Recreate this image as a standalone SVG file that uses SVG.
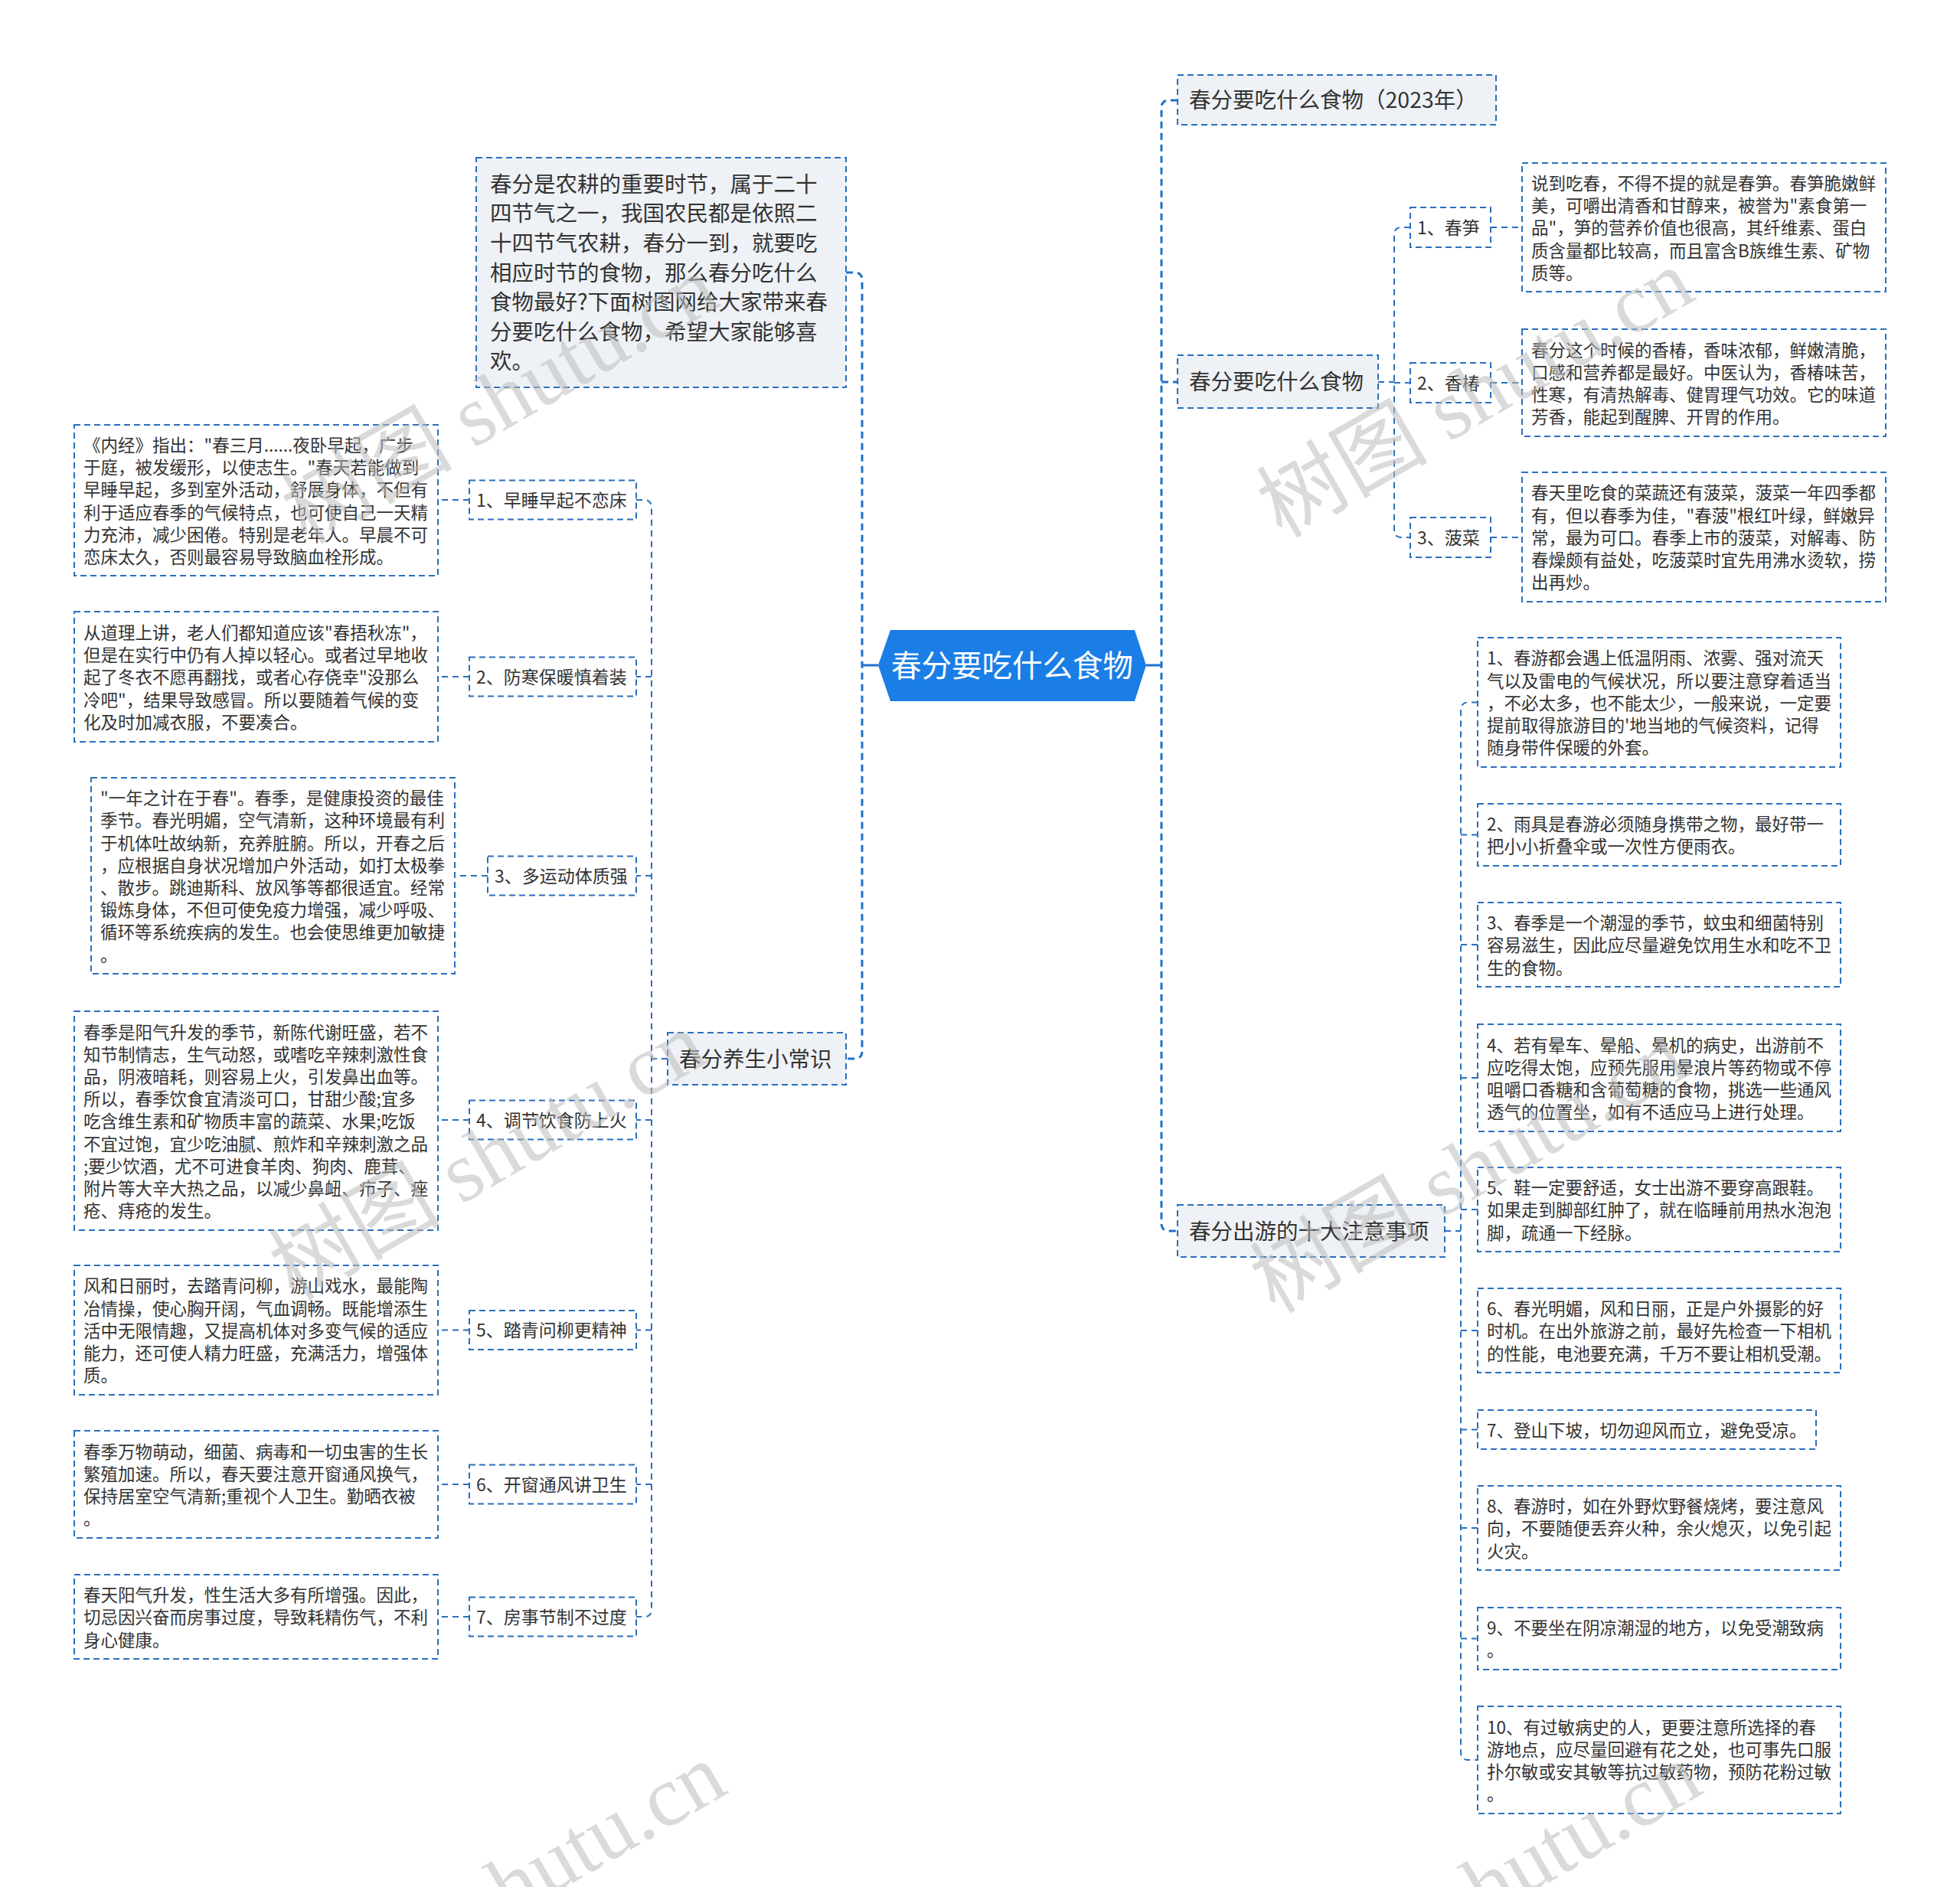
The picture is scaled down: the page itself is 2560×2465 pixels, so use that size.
<svg xmlns="http://www.w3.org/2000/svg" width="2560" height="2465" viewBox="0 0 2560 2465">
<style>
.t{font-family:"Noto Sans CJK SC","Noto Sans",sans-serif;fill:#333}
.d{font-size:22.5px}
.l{font-size:23px}
.m{font-size:28.5px}
.box{fill:#fff;stroke:#2a6fbd;stroke-width:2;stroke-dasharray:8 5}
.mainbox{fill:#eef1f5;stroke:#2a6fbd;stroke-width:2;stroke-dasharray:8 5}
.c1{fill:none;stroke:#1f72c8;stroke-width:3;stroke-dasharray:9 6}
.c2{fill:none;stroke:#2a6fbd;stroke-width:2;stroke-dasharray:8 6}
.wm{font-family:"Liberation Serif","Noto Sans CJK SC",serif;font-size:112px;fill:#bdbdbd;opacity:0.55}
</style>
<rect width="2560" height="2465" fill="#fff"/>

<g id="connectors">
  <path d="M1147,869 H1126 M1497,869 H1517" fill="none" stroke="#1f72c8" stroke-width="3"/>
  <path class="c1" d="M1105,356 H1116 Q1126,356 1126,366 V1373 Q1126,1383 1116,1383 H1105"/>
  <path class="c1" d="M1538,131 H1527 Q1517,131 1517,141 V1598 Q1517,1608 1527,1608 H1538 M1517,499 H1538"/>
  <path class="c2" d="M1800,499 H1821 M1842,297 H1831 Q1821,297 1821,307 V692 Q1821,702 1831,702 H1842 M1821,500 H1842"/>
  <path class="c2" d="M1947,297 H1988 M1947,500 H1988 M1947,702 H1988"/>
  <path class="c2" d="M1887,1608 H1908 M1930,917.5 H1918 Q1908,917.5 1908,927.5 V2289 Q1908,2299 1918,2299 H1930 M1908,1090.5 H1930 M1908,1234 H1930 M1908,1408 H1930 M1908,1580 H1930 M1908,1738 H1930 M1908,1867.5 H1930 M1908,1996 H1930 M1908,2140.5 H1930"/>
  <path class="c2" d="M872,1383 H851 M831,653 H841 Q851,653 851,663 V2102 Q851,2112 841,2112 H831 M851,884 H831 M851,1144 H831 M851,1463 H831 M851,1737.5 H831 M851,1939 H831"/>
  <path class="c2" d="M613,653 H572 M613,884 H572 M637,1144 H594 M613,1463 H572 M613,1737.5 H572 M613,1939 H572 M613,2112 H572"/>
</g>

<g id="root">
  <polygon points="1147,869 1163,823 1482,823 1497,869 1482,916 1163,916" fill="#1a7ee6"/>
  <text x="1322" y="883.5" text-anchor="middle" style="font-family:'Noto Sans CJK SC','Noto Sans',sans-serif;font-size:39.5px;fill:#fff">春分要吃什么食物</text>
</g>

<g id="intro">
  <rect class="mainbox" x="622" y="206" width="483" height="300"/>
  <text class="t m" x="640" y="250.7">
    <tspan x="640">春分是农耕的重要时节，属于二十</tspan>
    <tspan x="640" dy="38.6">四节气之一，我国农民都是依照二</tspan>
    <tspan x="640" dy="38.6">十四节气农耕，春分一到，就要吃</tspan>
    <tspan x="640" dy="38.6">相应时节的食物，那么春分吃什么</tspan>
    <tspan x="640" dy="38.6">食物最好?下面树图网给大家带来春</tspan>
    <tspan x="640" dy="38.6">分要吃什么食物，希望大家能够喜</tspan>
    <tspan x="640" dy="38.6">欢。</tspan>
  </text>
</g>

<g id="health">
  <rect class="mainbox" x="872" y="1349" width="233" height="68"/>
  <text class="t m" x="887" y="1393.5">春分养生小常识</text>
</g>

<g id="h1">
  <rect class="box" x="613" y="627.5" width="218" height="51"/>
  <text class="t l" x="622" y="661.5">1、早睡早起不恋床</text>
</g>
<g id="h1d">
  <rect class="box" x="97" y="555" width="475" height="197"/>
  <text class="t d" x="109" y="590">
    <tspan x="109">《内经》指出："春三月......夜卧早起，广步</tspan>
    <tspan x="109" dy="29.2">于庭，被发缓形，以使志生。"春天若能做到</tspan>
    <tspan x="109" dy="29.2">早睡早起，多到室外活动，舒展身体，不但有</tspan>
    <tspan x="109" dy="29.2">利于适应春季的气候特点，也可使自己一天精</tspan>
    <tspan x="109" dy="29.2">力充沛，减少困倦。特别是老年人。早晨不可</tspan>
    <tspan x="109" dy="29.2">恋床太久，否则最容易导致脑血栓形成。</tspan>
  </text>
</g>

<g id="h2">
  <rect class="box" x="613" y="858.5" width="218" height="51"/>
  <text class="t l" x="622" y="892.5">2、防寒保暖慎着装</text>
</g>
<g id="h2d">
  <rect class="box" x="97" y="799" width="475" height="170"/>
  <text class="t d" x="109" y="834.9">
    <tspan x="109">从道理上讲，老人们都知道应该"春捂秋冻"，</tspan>
    <tspan x="109" dy="29.2">但是在实行中仍有人掉以轻心。或者过早地收</tspan>
    <tspan x="109" dy="29.2">起了冬衣不愿再翻找，或者心存侥幸"没那么</tspan>
    <tspan x="109" dy="29.2">冷吧"，结果导致感冒。所以要随着气候的变</tspan>
    <tspan x="109" dy="29.2">化及时加减衣服，不要凑合。</tspan>
  </text>
</g>

<g id="h3">
  <rect class="box" x="637" y="1118.5" width="194" height="51"/>
  <text class="t l" x="646" y="1152.5">3、多运动体质强</text>
</g>
<g id="h3d">
  <rect class="box" x="119" y="1016" width="475" height="256"/>
  <text class="t d" x="131" y="1051.1">
    <tspan x="131">"一年之计在于春"。春季，是健康投资的最佳</tspan>
    <tspan x="131" dy="29.2">季节。春光明媚，空气清新，这种环境最有利</tspan>
    <tspan x="131" dy="29.2">于机体吐故纳新，充养脏腑。所以，开春之后</tspan>
    <tspan x="131" dy="29.2">，应根据自身状况增加户外活动，如打太极拳</tspan>
    <tspan x="131" dy="29.2">、散步。跳迪斯科、放风筝等都很适宜。经常</tspan>
    <tspan x="131" dy="29.2">锻炼身体，不但可使免疫力增强，减少呼吸、</tspan>
    <tspan x="131" dy="29.2">循环等系统疾病的发生。也会使思维更加敏捷</tspan>
    <tspan x="131" dy="29.2">。</tspan>
  </text>
</g>

<g id="h4">
  <rect class="box" x="613" y="1437.5" width="218" height="51"/>
  <text class="t l" x="622" y="1471.5">4、调节饮食防上火</text>
</g>
<g id="h4d">
  <rect class="box" x="97" y="1321" width="475" height="286"/>
  <text class="t d" x="109" y="1356.5">
    <tspan x="109">春季是阳气升发的季节，新陈代谢旺盛，若不</tspan>
    <tspan x="109" dy="29.2">知节制情志，生气动怒，或嗜吃辛辣刺激性食</tspan>
    <tspan x="109" dy="29.2">品，阴液暗耗，则容易上火，引发鼻出血等。</tspan>
    <tspan x="109" dy="29.2">所以，春季饮食宜清淡可口，甘甜少酸;宜多</tspan>
    <tspan x="109" dy="29.2">吃含维生素和矿物质丰富的蔬菜、水果;吃饭</tspan>
    <tspan x="109" dy="29.2">不宜过饱，宜少吃油腻、煎炸和辛辣刺激之品</tspan>
    <tspan x="109" dy="29.2">;要少饮酒，尤不可进食羊肉、狗肉、鹿茸、</tspan>
    <tspan x="109" dy="29.2">附片等大辛大热之品，以减少鼻衄、疖子、痤</tspan>
    <tspan x="109" dy="29.2">疮、痔疮的发生。</tspan>
  </text>
</g>

<g id="h5">
  <rect class="box" x="613" y="1712" width="218" height="51"/>
  <text class="t l" x="622" y="1746">5、踏青问柳更精神</text>
</g>
<g id="h5d">
  <rect class="box" x="97" y="1653" width="475" height="169"/>
  <text class="t d" x="109" y="1688.4">
    <tspan x="109">风和日丽时，去踏青问柳，游山戏水，最能陶</tspan>
    <tspan x="109" dy="29.2">冶情操，使心胸开阔，气血调畅。既能增添生</tspan>
    <tspan x="109" dy="29.2">活中无限情趣，又提高机体对多变气候的适应</tspan>
    <tspan x="109" dy="29.2">能力，还可使人精力旺盛，充满活力，增强体</tspan>
    <tspan x="109" dy="29.2">质。</tspan>
  </text>
</g>

<g id="h6">
  <rect class="box" x="613" y="1913.5" width="218" height="51"/>
  <text class="t l" x="622" y="1947.5">6、开窗通风讲卫生</text>
</g>
<g id="h6d">
  <rect class="box" x="97" y="1869" width="475" height="140"/>
  <text class="t d" x="109" y="1904.5">
    <tspan x="109">春季万物萌动，细菌、病毒和一切虫害的生长</tspan>
    <tspan x="109" dy="29.2">繁殖加速。所以，春天要注意开窗通风换气，</tspan>
    <tspan x="109" dy="29.2">保持居室空气清新;重视个人卫生。勤晒衣被</tspan>
    <tspan x="109" dy="29.2">。</tspan>
  </text>
</g>

<g id="h7">
  <rect class="box" x="613" y="2086.5" width="218" height="51"/>
  <text class="t l" x="622" y="2120.5">7、房事节制不过度</text>
</g>
<g id="h7d">
  <rect class="box" x="97" y="2057" width="475" height="110"/>
  <text class="t d" x="109" y="2092.1">
    <tspan x="109">春天阳气升发，性生活大多有所增强。因此，</tspan>
    <tspan x="109" dy="29.2">切忌因兴奋而房事过度，导致耗精伤气，不利</tspan>
    <tspan x="109" dy="29.2">身心健康。</tspan>
  </text>
</g>

<g id="year">
  <rect class="mainbox" x="1538" y="98" width="416" height="65"/>
  <text class="t m" x="1553" y="141">春分要吃什么食物（2023年）</text>
</g>

<g id="food">
  <rect class="mainbox" x="1538" y="464" width="262" height="69"/>
  <text class="t m" x="1553" y="509">春分要吃什么食物</text>
</g>

<g id="f1">
  <rect class="box" x="1842" y="271" width="105" height="52"/>
  <text class="t l" x="1851" y="305.5">1、春笋</text>
</g>
<g id="f1d">
  <rect class="box" x="1988" y="213" width="475" height="168"/>
  <text class="t d" x="2000" y="247.9">
    <tspan x="2000">说到吃春，不得不提的就是春笋。春笋脆嫩鲜</tspan>
    <tspan x="2000" dy="29.2">美，可嚼出清香和甘醇来，被誉为"素食第一</tspan>
    <tspan x="2000" dy="29.2">品"，笋的营养价值也很高，其纤维素、蛋白</tspan>
    <tspan x="2000" dy="29.2">质含量都比较高，而且富含B族维生素、矿物</tspan>
    <tspan x="2000" dy="29.2">质等。</tspan>
  </text>
</g>

<g id="f2">
  <rect class="box" x="1842" y="474" width="105" height="52"/>
  <text class="t l" x="1851" y="508.5">2、香椿</text>
</g>
<g id="f2d">
  <rect class="box" x="1988" y="430" width="475" height="140"/>
  <text class="t d" x="2000" y="465.5">
    <tspan x="2000">春分这个时候的香椿，香味浓郁，鲜嫩清脆，</tspan>
    <tspan x="2000" dy="29.2">口感和营养都是最好。中医认为，香椿味苦，</tspan>
    <tspan x="2000" dy="29.2">性寒，有清热解毒、健胃理气功效。它的味道</tspan>
    <tspan x="2000" dy="29.2">芳香，能起到醒脾、开胃的作用。</tspan>
  </text>
</g>

<g id="f3">
  <rect class="box" x="1842" y="676" width="105" height="52"/>
  <text class="t l" x="1851" y="710.5">3、菠菜</text>
</g>
<g id="f3d">
  <rect class="box" x="1988" y="617" width="475" height="169"/>
  <text class="t d" x="2000" y="652.4">
    <tspan x="2000">春天里吃食的菜蔬还有菠菜，菠菜一年四季都</tspan>
    <tspan x="2000" dy="29.2">有，但以春季为佳，"春菠"根红叶绿，鲜嫩异</tspan>
    <tspan x="2000" dy="29.2">常，最为可口。春季上市的菠菜，对解毒、防</tspan>
    <tspan x="2000" dy="29.2">春燥颇有益处，吃菠菜时宜先用沸水烫软，捞</tspan>
    <tspan x="2000" dy="29.2">出再炒。</tspan>
  </text>
</g>

<g id="travel">
  <rect class="mainbox" x="1538" y="1574" width="349" height="68"/>
  <text class="t m" x="1553" y="1618.5">春分出游的十大注意事项</text>
</g>

<g id="t1">
  <rect class="box" x="1930" y="833" width="474" height="169"/>
  <text class="t d" x="1942" y="868.4">
    <tspan x="1942">1、春游都会遇上低温阴雨、浓雾、强对流天</tspan>
    <tspan x="1942" dy="29.2">气以及雷电的气候状况，所以要注意穿着适当</tspan>
    <tspan x="1942" dy="29.2">，不必太多，也不能太少，一般来说，一定要</tspan>
    <tspan x="1942" dy="29.2">提前取得旅游目的'地当地的气候资料，记得</tspan>
    <tspan x="1942" dy="29.2">随身带件保暖的外套。</tspan>
  </text>
</g>
<g id="t2">
  <rect class="box" x="1930" y="1050" width="474" height="81"/>
  <text class="t d" x="1942" y="1085.2">
    <tspan x="1942">2、雨具是春游必须随身携带之物，最好带一</tspan>
    <tspan x="1942" dy="29.2">把小小折叠伞或一次性方便雨衣。</tspan>
  </text>
</g>
<g id="t3">
  <rect class="box" x="1930" y="1179" width="474" height="110"/>
  <text class="t d" x="1942" y="1214.1">
    <tspan x="1942">3、春季是一个潮湿的季节，蚊虫和细菌特别</tspan>
    <tspan x="1942" dy="29.2">容易滋生，因此应尽量避免饮用生水和吃不卫</tspan>
    <tspan x="1942" dy="29.2">生的食物。</tspan>
  </text>
</g>
<g id="t4">
  <rect class="box" x="1930" y="1338" width="474" height="140"/>
  <text class="t d" x="1942" y="1373.5">
    <tspan x="1942">4、若有晕车、晕船、晕机的病史，出游前不</tspan>
    <tspan x="1942" dy="29.2">应吃得太饱，应预先服用晕浪片等药物或不停</tspan>
    <tspan x="1942" dy="29.2">咀嚼口香糖和含葡萄糖的食物，挑选一些通风</tspan>
    <tspan x="1942" dy="29.2">透气的位置坐，如有不适应马上进行处理。</tspan>
  </text>
</g>
<g id="t5">
  <rect class="box" x="1930" y="1525" width="474" height="110"/>
  <text class="t d" x="1942" y="1560.1">
    <tspan x="1942">5、鞋一定要舒适，女士出游不要穿高跟鞋。</tspan>
    <tspan x="1942" dy="29.2">如果走到脚部红肿了，就在临睡前用热水泡泡</tspan>
    <tspan x="1942" dy="29.2">脚，疏通一下经脉。</tspan>
  </text>
</g>
<g id="t6">
  <rect class="box" x="1930" y="1683" width="474" height="110"/>
  <text class="t d" x="1942" y="1718.1">
    <tspan x="1942">6、春光明媚，风和日丽，正是户外摄影的好</tspan>
    <tspan x="1942" dy="29.2">时机。在出外旅游之前，最好先检查一下相机</tspan>
    <tspan x="1942" dy="29.2">的性能，电池要充满，千万不要让相机受潮。</tspan>
  </text>
</g>
<g id="t7">
  <rect class="box" x="1930" y="1842" width="442" height="51"/>
  <text class="t d" x="1942" y="1876.8">7、登山下坡，切勿迎风而立，避免受凉。</text>
</g>
<g id="t8">
  <rect class="box" x="1930" y="1941" width="474" height="110"/>
  <text class="t d" x="1942" y="1976.1">
    <tspan x="1942">8、春游时，如在外野炊野餐烧烤，要注意风</tspan>
    <tspan x="1942" dy="29.2">向，不要随便丢弃火种，余火熄灭，以免引起</tspan>
    <tspan x="1942" dy="29.2">火灾。</tspan>
  </text>
</g>
<g id="t9">
  <rect class="box" x="1930" y="2100" width="474" height="81"/>
  <text class="t d" x="1942" y="2135.2">
    <tspan x="1942">9、不要坐在阴凉潮湿的地方，以免受潮致病</tspan>
    <tspan x="1942" dy="29.2">。</tspan>
  </text>
</g>
<g id="t10">
  <rect class="box" x="1930" y="2229" width="474" height="140"/>
  <text class="t d" x="1942" y="2264.5">
    <tspan x="1942">10、有过敏病史的人，更要注意所选择的春</tspan>
    <tspan x="1942" dy="29.2">游地点，应尽量回避有花之处，也可事先口服</tspan>
    <tspan x="1942" dy="29.2">扑尔敏或安其敏等抗过敏药物，预防花粉过敏</tspan>
    <tspan x="1942" dy="29.2">。</tspan>
  </text>
</g>

<g id="watermarks">
  <text class="wm" x="653" y="560" text-anchor="middle" transform="rotate(-30 653 522)">树图 shutu.cn</text>
  <text class="wm" x="1927" y="552" text-anchor="middle" transform="rotate(-30 1927 514)">树图 shutu.cn</text>
  <text class="wm" x="637" y="1548" text-anchor="middle" transform="rotate(-30 637 1510)">树图 shutu.cn</text>
  <text class="wm" x="1918" y="1565" text-anchor="middle" transform="rotate(-30 1918 1527)">树图 shutu.cn</text>
  <text class="wm" x="663" y="2503" text-anchor="middle" transform="rotate(-30 663 2465)">树图 shutu.cn</text>
  <text class="wm" x="1937" y="2503" text-anchor="middle" transform="rotate(-30 1937 2465)">树图 shutu.cn</text>
</g>
</svg>
